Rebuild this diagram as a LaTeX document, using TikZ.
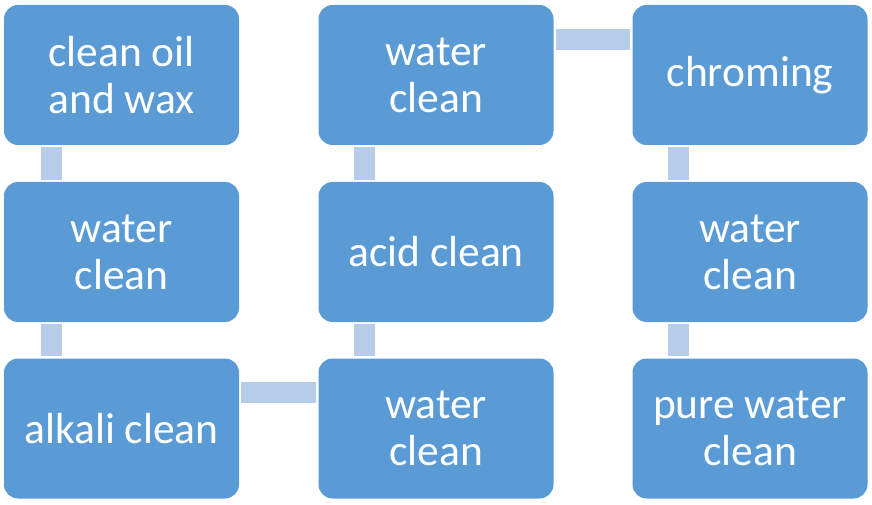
\documentclass[tikz,border=0pt]{standalone}
\usepackage{fontspec}
\setmainfont{Carlito}
\usetikzlibrary{calc}
\definecolor{boxblue}{RGB}{91,155,213}
\definecolor{connblue}{RGB}{182,204,232}
\tikzset{
  stepbox/.style={rectangle, fill=boxblue, draw=none, rounded corners=14pt,
    minimum width=235pt, minimum height=140pt, inner sep=0pt,
    text=white, align=center, font=\fontsize{43.5}{47}\selectfont},
  conn/.style={fill=connblue, draw=none}
}
\begin{document}
\begin{tikzpicture}[x=1pt,y=1pt]
\useasboundingbox (0,0) rectangle (872,504);
\node[stepbox] (a1) at (121.5,429) {clean oil\\and wax};
\node[stepbox] (a2) at (121.5,252) {water\\clean};
\node[stepbox] (a3) at (121.5,75.5) {alkali clean};
\node[stepbox] (b3) at (436,75.5) {water\\clean};
\node[stepbox] (b2) at (436,252) {acid clean};
\node[stepbox] (b1) at (436,429) {water\\clean};
\node[stepbox] (c1) at (750,429) {chroming};
\node[stepbox] (c2) at (750,252) {water\\clean};
\node[stepbox] (c3) at (750,75.5) {pure water\\clean};
% vertical connectors
\fill[conn] ($(a1.south west)+(37,-2)$) rectangle ($(a2.north west)+(58,2)$);
\fill[conn] ($(a2.south west)+(37,-2)$) rectangle ($(a3.north west)+(58,2)$);
\fill[conn] ($(b2.south west)+(36,-2)$) rectangle ($(b3.north west)+(57,2)$);
\fill[conn] ($(b1.south west)+(36,-2)$) rectangle ($(b2.north west)+(57,2)$);
\fill[conn] ($(c1.south west)+(36,-2)$) rectangle ($(c2.north west)+(57,2)$);
\fill[conn] ($(c2.south west)+(36,-2)$) rectangle ($(c3.north west)+(57,2)$);
% horizontal connectors
\fill[conn] ($(a3.north east)+(2,-24)$) rectangle ($(b3.north west)+(-2,-45)$);
\fill[conn] ($(b1.north east)+(2,-24)$) rectangle ($(c1.north west)+(-2,-45)$);
\end{tikzpicture}
\end{document}
